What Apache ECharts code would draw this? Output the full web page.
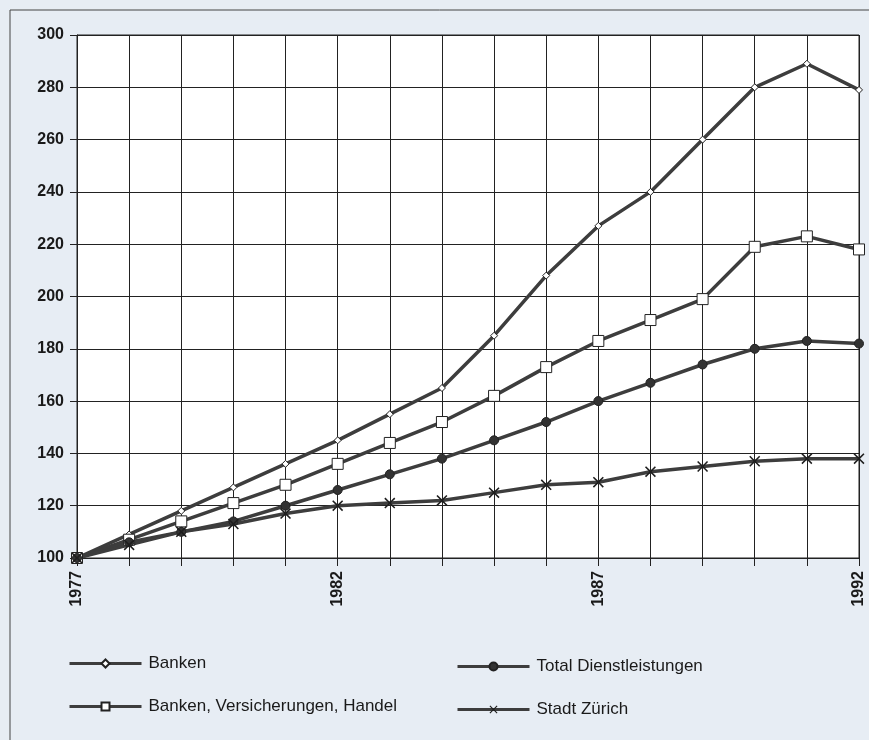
<!DOCTYPE html>
<html>
<head>
<meta charset="utf-8">
<title>Beschäftigte Index 1977 = 100</title>
<script src="https://cdn.jsdelivr.net/npm/echarts@6/dist/echarts.min.js"></script>
<style>
    html, body { margin: 0; padding: 0; background: #e7edf4; }
    #chart { width: 869px; height: 740px; }
</style>
</head>
<body>
<div id="chart"></div>
<script>
// Jahre (x-Achse)
const years = ['1977', '1978', '1979', '1980', '1981', '1982', '1983', '1984',
    '1985', '1986', '1987', '1988', '1989', '1990', '1991', '1992'];

// Indexwerte, 1977 = 100
const banken = [100, 109, 118, 127, 136, 145, 155, 165, 185, 208, 227, 240, 260, 280, 289, 279];
const bankenVersHandel = [100, 107, 114, 121, 128, 136, 144, 152, 162, 173, 183, 191, 199, 219, 223, 218];
const totalDienst = [100, 106, 110, 114, 120, 126, 132, 138, 145, 152, 160, 167, 174, 180, 183, 182];
const stadtZuerich = [100, 105, 110, 113, 117, 120, 121, 122, 125, 128, 129, 133, 135, 137, 138, 138];

const seriesNames = ['Banken', 'Banken, Versicherungen, Handel', 'Total Dienstleistungen', 'Stadt Zürich'];

const lineColor = '#3d3d3d';
// "x" als Markierung
const crossPath = 'path://M1,0 L5,4 L9,0 L10,1 L6,5 L10,9 L9,10 L5,6 L1,10 L0,9 L4,5 L0,1 Z';

const myChart = echarts.init(document.getElementById('chart'));

function makeSeries (name, data, symbol, size, fill, borderWidth) {
    return {
        name: name,
        type: 'line',
        data: data,
        symbol: symbol,
        symbolSize: size,
        showAllSymbol: true,
        lineStyle: { color: lineColor, width: 3.5 },
        itemStyle: { color: fill, borderColor: '#222', borderWidth: borderWidth },
        emphasis: { disabled: true },
        z: 3
    };
}

const legendBase = {
    orient: 'vertical',
    itemWidth: 72,
    itemHeight: 10,
    itemGap: 26,
    lineStyle: { width: 3, color: lineColor },
    textStyle: { fontSize: 17, color: '#1a1a1a', padding: [0, 0, 0, 2] },
    selectedMode: false
};

const option = {
    backgroundColor: '#e7edf4',
    animation: false,
    textStyle: { fontFamily: 'Liberation Sans, Arial, sans-serif', color: '#1a1a1a' },
    graphic: [
        // Rahmen der Vorlage (links / oben)
        {
            type: 'polyline',
            shape: { points: [[10, 740], [10, 10], [869, 10]] },
            style: { stroke: '#444', lineWidth: 1, fill: null },
            silent: true
        }
    ],
    grid: {
        left: 77,
        right: 10,
        top: 35,
        bottom: 182,
        show: true,
        backgroundColor: '#ffffff',
        borderColor: '#222',
        borderWidth: 1
    },
    xAxis: {
        type: 'category',
        data: years,
        boundaryGap: false,
        axisLine: { lineStyle: { color: '#222', width: 1 } },
        axisTick: { show: true, length: 8, interval: 0, lineStyle: { color: '#222' } },
        axisLabel: {
            interval: 4,
            rotate: 90,
            margin: 13,
            fontSize: 16,
            fontWeight: 'bold',
            color: '#1a1a1a'
        },
        splitLine: { show: true, interval: 0, lineStyle: { color: '#222', width: 1 } }
    },
    yAxis: {
        type: 'value',
        min: 100,
        max: 300,
        interval: 20,
        axisLine: { show: true, lineStyle: { color: '#222', width: 1 } },
        axisTick: { show: true, length: 7, lineStyle: { color: '#222' } },
        axisLabel: { fontSize: 16, fontWeight: 'bold', margin: 13, color: '#1a1a1a' },
        splitLine: { show: true, lineStyle: { color: '#222', width: 1 } }
    },
    legend: [
        Object.assign({}, legendBase, {
            data: [seriesNames[0], seriesNames[1]],
            left: 63,
            top: 650
        }),
        Object.assign({}, legendBase, {
            data: [seriesNames[2], seriesNames[3]],
            left: 451,
            top: 653
        })
    ],
    series: [
        makeSeries(seriesNames[0], banken, 'diamond', 7, '#ffffff', 1),
        makeSeries(seriesNames[1], bankenVersHandel, 'rect', 11, '#ffffff', 1),
        makeSeries(seriesNames[2], totalDienst, 'circle', 9, '#333333', 1),
        makeSeries(seriesNames[3], stadtZuerich, crossPath, 11, '#1e1e1e', 0)
    ]
};

myChart.setOption(option);
</script>
</body>
</html>
